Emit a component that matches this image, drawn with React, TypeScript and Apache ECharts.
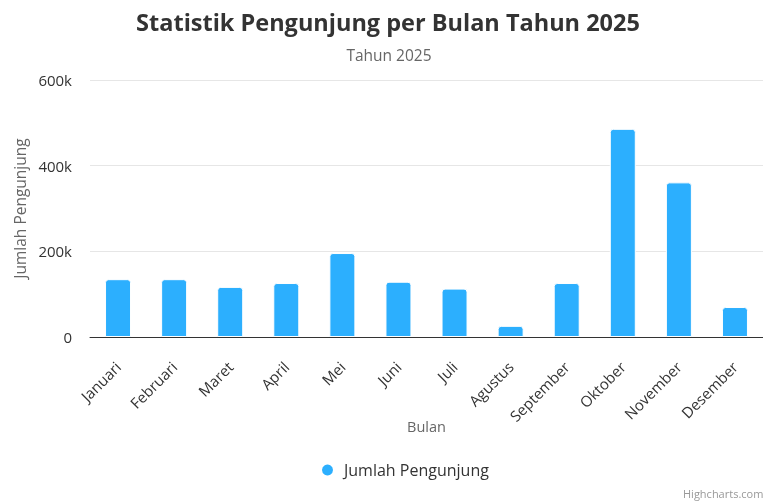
import React, { useEffect, useRef } from "react";
import * as echarts from "echarts";

const categories = ["Januari", "Februari", "Maret", "April", "Mei", "Juni", "Juli", "Agustus", "September", "Oktober", "November", "Desember"];
const visitors = [135000, 135000, 117000, 126000, 196000, 129000, 113000, 26000, 126000, 486000, 361000, 70000];
const seriesName = "Jumlah Pengunjung";
const titleText = "Statistik Pengunjung per Bulan Tahun 2025";
const subtitleText = "Tahun 2025";
const xName = "Bulan";
const yName = "Jumlah Pengunjung";
const creditText = "Highcharts.com";

const FONT = "'Open Sans', 'Noto Sans', sans-serif";

export default function App() {
  const ref = useRef<HTMLDivElement>(null);
  useEffect(() => {
    if (!ref.current) return;
    const chart = echarts.init(ref.current, null, { renderer: "svg" });
    chart.setOption({
      animation: false,
      textStyle: { fontFamily: FONT },
      title: [
        {
          text: titleText,
          left: 383,
          textAlign: "center",
          top: 5,
          textStyle: { fontFamily: FONT, fontSize: 23.5, fontWeight: "bold", color: "#333333" },
        },
        {
          text: subtitleText,
          left: 384,
          textAlign: "center",
          top: 42,
          textStyle: { fontFamily: FONT, fontSize: 15.5, fontWeight: "normal", color: "#666666" },
        },
      ],
      legend: {
        data: [seriesName],
        left: 315,
        top: 457,
        icon: "circle",
        itemWidth: 13,
        itemHeight: 13,
        textStyle: { fontFamily: FONT, fontSize: 16, color: "#333333", padding: [0, 0, 0, 5] },
      },
      grid: { left: 90, right: -6, top: 80, bottom: 167, containLabel: false },
      xAxis: {
        type: "category",
        data: categories,
        name: xName,
        nameLocation: "middle",
        nameGap: 82,
        nameMoveOverlap: false,
        nameTextStyle: { fontFamily: FONT, fontSize: 14.5, color: "#666666" },
        axisLine: { show: true, lineStyle: { color: "#333333", width: 1 } },
        axisTick: { show: false },
        axisLabel: { rotate: 45, margin: 27, fontFamily: FONT, fontSize: 15, color: "#333333", interval: 0 },
      },
      yAxis: {
        type: "value",
        min: 0,
        max: 600000,
        interval: 200000,
        name: yName,
        nameLocation: "middle",
        nameGap: 62,
        nameMoveOverlap: false,
        nameTextStyle: { fontFamily: FONT, fontSize: 15.5, color: "#666666" },
        axisLine: { show: false },
        axisTick: { show: false },
        axisLabel: {
          margin: 18,
          fontFamily: FONT,
          fontSize: 15,
          color: "#333333",
          formatter: (v: number) => (v === 0 ? "0" : v / 1000 + "k"),
        },
        splitLine: { lineStyle: { color: "#e6e6e6", width: 1 } },
      },
      series: [
        {
          name: seriesName,
          type: "bar",
          data: visitors,
          barWidth: 26,
          itemStyle: { color: "#2caffe", borderRadius: [3, 3, 0, 0], borderColor: "#ffffff", borderWidth: 1 },
        },
      ],
      graphic: [
        {
          type: "text",
          left: 683,
          top: 488,
          style: { text: creditText, fontFamily: FONT, fontSize: 11, fill: "#999999" },
        },
      ],
    });
    return () => chart.dispose();
  }, []);
  return <div ref={ref} style={{ position: "fixed", left: 0, top: 0, width: 763, height: 504 }} />;
}
